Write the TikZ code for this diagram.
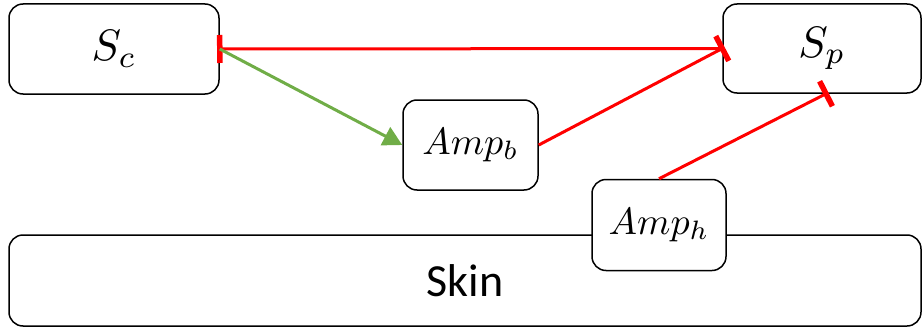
\documentclass[tikz,border=0pt]{standalone}
\usepackage{graphicx}
\usepackage{fontspec}
\newfontfamily\skinfont{Carlito}
\usetikzlibrary{arrows.meta,calc}
\definecolor{inhred}{RGB}{255,0,0}
\definecolor{actgreen}{RGB}{112,173,71}
\begin{document}
\begin{tikzpicture}[x=1pt,y=-1pt,
  box/.style={draw=black,line width=1.5pt,rounded corners=14pt,fill=white,inner sep=0pt},
  inh/.style={draw=inhred,line width=3pt},
  barend/.style={-{Bar[width=28pt,line width'=5.5pt]},shorten >=-2.75pt},
  barstart/.style={{Bar[width=28pt,line width'=5.5pt]}-,shorten <=-2.75pt},
  act/.style={draw=actgreen,line width=3pt,-{Triangle[length=19pt,width=20pt]}}
]
\useasboundingbox (0,0) rectangle (923,329);
\node[box,minimum width=912pt,minimum height=91pt] (skin) at (465,280.5) {\skinfont\fontsize{46}{50}\selectfont Skin};
\node[box,minimum width=210pt,minimum height=90pt] (Sc) at (114,49) {\scalebox{4.4}{$S_c$}};
\node[box,minimum width=198pt,minimum height=89pt] (Sp) at (822,48.5) {\scalebox{4.4}{$S_p$}};
\node[box,minimum width=135pt,minimum height=90pt] (Ab) at (470.5,145) {\scalebox{3.8}{$Amp_b$}};
\node[box,minimum width=134pt,minimum height=91pt] (Ah) at (659,225) {\scalebox{3.8}{$Amp_h$}};
\coordinate (spb) at ($(Sp.south)+(4,0)$);
\draw[inh,barstart] (Sc.east) -- (Sp.west);
\draw[inh,barend] (Ab.east) -- (Sp.west);
\draw[inh,barend] (Ah.north) -- (spb);
\draw[act] (Sc.east) -- (Ab.west);
\end{tikzpicture}
\end{document}
